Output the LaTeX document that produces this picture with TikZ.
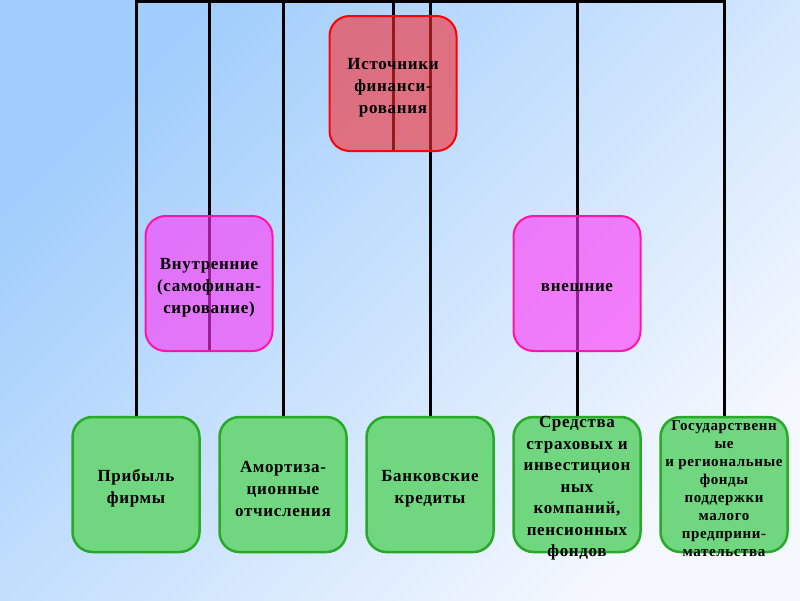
\documentclass[tikz,border=0pt]{standalone}
\usepackage{fontspec}
\setmainfont{Liberation Serif}
\newfontfamily\boxfont{Liberation Serif}[LetterSpace=4]
\definecolor{SkyLeft}{RGB}{160, 205, 252}
\definecolor{SkyRight}{RGB}{245, 248, 254}
\definecolor{RootFill}{RGB}{247, 42, 47}
\definecolor{MidFill}{RGB}{255, 50, 247}
\definecolor{MidLine}{RGB}{255, 20, 170}
\definecolor{LeafFill}{RGB}{112, 214, 128}
\definecolor{LeafLine}{RGB}{40, 170, 40}
\usetikzlibrary{positioning, backgrounds}

\begin{document}
\begin{tikzpicture}[x=1pt, y=-1pt, node distance=20pt,
    boxbase/.style={draw, rounded corners=20pt, minimum width=127pt, minimum height=135pt, inner sep=0pt, outer sep=0pt},
    rootbox/.style={boxbase, draw=red, line width=2pt, fill=RootFill, fill opacity=0.6},
    midbox/.style={boxbase, draw=MidLine, line width=2pt, fill=MidFill, fill opacity=0.6},
    leafbox/.style={boxbase, draw=LeafLine, line width=2.5pt, fill=LeafFill},
    txt/.style={align=center, inner sep=0pt, yshift=-4pt, text=black, font=\boxfont\bfseries\fontsize{17}{22}\selectfont},
    smalltxt/.style={txt, font=\boxfont\bfseries\fontsize{15}{18}\selectfont},
    wire/.style={line width=3pt, black}]
    \useasboundingbox (0,0) rectangle (800,600);
    \begin{scope}[on background layer]
        \shade[left color=SkyLeft, right color=SkyRight, shading angle=45] (0,0) rectangle (800,600);
    \end{scope}
    \coordinate (top) at (0,1.5);
    % Top and middle
    \node[rootbox] (src) at (393,83.5) {};
    \node[txt] (srcT) at (src) {Источники\\финанси-\\рования};
    \node[midbox] (inner) at (209,283.5) {};
    \node[txt] (innerT) at (inner) {Внутренние\\(самофинан-\\сирование)};
    % Bottom row
    \node[leafbox] (profit) at (136,484.5) {};
    \node[leafbox, right=of profit] (amort) {};
    \node[leafbox, right=of amort] (bank) {};
    \node[leafbox, right=of bank] (insur) {};
    \node[leafbox, right=of insur] (state) {};
    \node[midbox] (outer) at (insur |- inner) {};
    \node[txt] (outerT) at (outer) {внешние};
    \node[txt] (profitT) at (profit) {Прибыль\\фирмы};
    \node[txt] (amortT) at (amort) {Амортиза-\\ционные\\отчисления};
    \node[txt] (bankT) at (bank) {Банковские\\кредиты};
    \node[txt, font=\boxfont\bfseries\fontsize{17}{21.5}\selectfont] (insurT) at (insur) {Средства\\страховых и\\инвестицион\\ных\\компаний,\\пенсионных\\фондов};
    \node[smalltxt] (stateT) at (state) {Государственн\\ые\\и региональные\\фонды\\поддержки\\малого\\предприни-\\мательства};
    % Wires under the boxes
    \begin{scope}[on background layer]
        \draw[wire] (profit.north) |- (state.north |- top) -- (state.north);
        \draw[wire] (inner.south) -- (inner.south |- top);
        \draw[wire] (amort.north) -- (amort.north |- top);
        \draw[wire] (src.south) -- (src.south |- top);
        \draw[wire] (bank.north) -- (bank.north |- top);
        \draw[wire] (insur.north) -- (insur.north |- top);
    \end{scope}
\end{tikzpicture}
\end{document}
